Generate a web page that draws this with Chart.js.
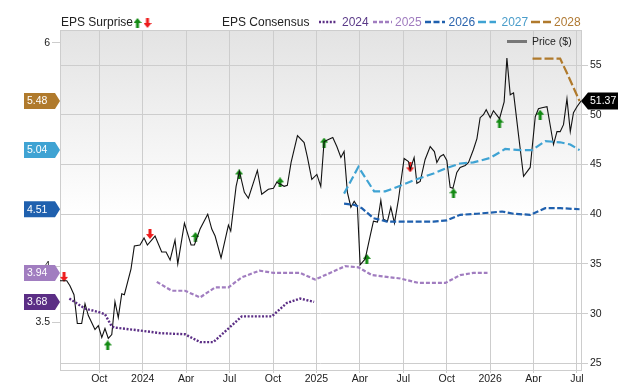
<!DOCTYPE html>
<html>
<head>
<meta charset="utf-8">
<script src="https://cdn.jsdelivr.net/npm/chart.js@4.4.1/dist/chart.umd.min.js"></script>
<style>
  html, body { margin: 0; padding: 0; background: #fff; }
  canvas { display: block; }
</style>
</head>
<body>
<canvas id="c" width="640" height="382"></canvas>
<script>
// x = months since Jul 2023 (3 = Oct 2023, 6 = Jan 2024, ...)
const tickMonths = [3, 6, 9, 12, 15, 18, 21, 24, 27, 30, 33, 36];
const tickLabels = ["Oct", "2024", "Apr", "Jul", "Oct", "2025", "Apr", "Jul", "Oct", "2026", "Apr", "Jul"];
const priceTicks = [25, 30, 35, 40, 45, 50, 55];
const epsTicks = [3.5, 4, 6];

const priceX = [0.28, 0.75, 0.97, 1.25, 1.48, 1.78, 2.01, 2.24, 2.7, 2.93, 3.17, 3.39, 3.62, 3.86, 4.08, 4.31, 4.55, 4.73,
  5.19, 5.42, 5.81, 6.09, 6.32, 6.85, 7.31, 7.61, 7.89, 8.23, 8.42, 8.88, 9.34, 9.57, 9.96, 10.49, 10.77, 11.0, 11.41,
  11.92, 12.08, 12.45, 12.68, 13.02, 13.3, 13.92, 14.22, 14.68, 15.03, 15.26, 15.77, 15.99, 16.25, 16.69, 17.15, 17.38,
  17.68, 18.03, 18.3, 18.53, 18.83, 19.13, 19.41, 19.69, 19.91, 20.14, 20.38, 20.61, 20.83, 21.02, 21.37, 21.71, 21.94,
  22.22, 22.45, 22.63, 22.91, 23.14, 23.39, 23.67, 24.06, 24.36, 24.48, 24.75, 24.94, 25.17, 25.51, 25.86, 26.15, 26.32,
  26.55, 26.78, 27.01, 27.24, 27.43, 27.7, 27.93, 28.28, 28.51, 28.85, 29.09, 29.31, 29.54, 29.73, 30.01, 30.23, 30.65,
  30.97, 31.16, 31.39, 31.62, 31.96, 32.31, 32.77, 33.12, 33.34, 33.58, 33.93, 34.38, 34.62, 34.84, 35.07, 35.31, 35.54,
  35.76, 36.0, 36.28];
const priceY = [33.3, 33.3, 32.8, 31.9, 29.0, 29.0, 31.0, 29.8, 28.4, 28.8, 27.6, 28.5, 27.5, 27.9, 31.2, 29.6, 32.0, 31.9,
  34.5, 36.8, 36.9, 37.6, 36.9, 37.8, 36.2, 36.2, 35.4, 37.4, 35.0, 39.1, 36.9, 36.9, 38.5, 40.0, 38.5, 37.8, 35.6,
  38.9, 38.3, 42.8, 44.3, 42.2, 41.6, 44.4, 42.0, 42.5, 42.6, 43.2, 42.8, 42.9, 45.2, 47.9, 47.2, 45.7,
  43.5, 44.0, 42.8, 47.3, 47.5, 47.7, 46.8, 45.7, 46.3, 42.2, 40.7, 41.3, 40.8, 34.9, 35.5, 37.8, 39.3,
  39.2, 41.4, 39.5, 39.3, 40.7, 39.1, 41.5, 45.6, 45.3, 44.5, 45.7, 43.1, 43.3, 45.5, 46.8, 46.3, 45.2,
  45.8, 46.0, 45.4, 42.7, 42.6, 44.2, 44.7, 44.9, 45.2, 46.5, 47.6, 49.7, 50.0, 50.5, 49.7, 50.4, 49.6,
  51.3, 55.7, 52.0, 52.2, 48.0, 43.8, 44.7, 49.8, 50.6, 50.7, 50.8, 47.0, 48.3, 48.3, 49.0, 51.6, 48.3,
  50.2, 50.8, 51.37];

const eps2024X = [0.93, 2.01, 2.93, 3.39, 3.86, 4.08, 6.04, 7.2, 8.92, 9.96, 10.88, 12.84, 14.92, 15.95, 16.87, 17.84];
const eps2024Y = [3.71, 3.62, 3.59, 3.57, 3.46, 3.45, 3.42, 3.4, 3.39, 3.32, 3.32, 3.55, 3.55, 3.67, 3.71, 3.68];

const eps2025X = [6.97, 8.0, 8.92, 9.96, 11.0, 11.92, 12.84, 14.06, 15.03, 16.87, 17.91, 19.98, 20.9, 21.83, 23.79, 25.05,
  26.9, 27.93, 28.85, 29.82];
const eps2025Y = [3.86, 3.78, 3.78, 3.72, 3.81, 3.81, 3.9, 3.96, 3.94, 3.94, 3.88, 4.0, 3.99, 3.92, 3.89, 3.85,
  3.85, 3.92, 3.94, 3.94];

const eps2026X = [19.91, 20.61, 21.14, 21.94, 22.87, 23.79, 26.09, 27.01, 27.93, 29.09, 30.01, 30.82, 31.62, 32.77, 33.81,
  34.84, 36.18];
const eps2026Y = [4.56, 4.55, 4.52, 4.43, 4.4, 4.4, 4.4, 4.41, 4.46, 4.47, 4.48, 4.49, 4.47, 4.46, 4.52, 4.52, 4.51];

const eps2027X = [19.91, 20.9, 21.99, 22.75, 23.79, 24.71, 26.09, 27.01, 27.93, 28.85, 30.01, 31.04, 32.08, 32.89, 33.81,
  34.84, 35.54, 36.18];
const eps2027Y = [4.65, 4.89, 4.67, 4.67, 4.72, 4.77, 4.83, 4.88, 4.92, 4.93, 4.97, 5.05, 5.04, 5.04, 5.12, 5.11, 5.09, 5.04];

const eps2028X = [32.93, 34.84, 35.31, 36.18];
const eps2028Y = [5.86, 5.86, 5.73, 5.48];

const beatX = [3.58, 9.64, 12.66, 15.49, 18.53, 21.48, 27.47, 30.65, 33.46];
const beatY = [26.8, 37.7, 44.0, 43.2, 47.2, 35.5, 42.1, 49.2, 50.0];
const missX = [0.56, 6.5, 24.48];
const missY = [33.7, 38.0, 44.7];

const FONT = "'Liberation Sans', Arial, sans-serif";
const TXT = "#222";
const GRID = "#cdcdcd";

const series = [
  { label: "2024", x: eps2024X, y: eps2024Y, color: "#5b2e85", dash: [2, 1.6], w: 2.4 },
  { label: "2025", x: eps2025X, y: eps2025Y, color: "#a17dc0", dash: [4, 2], w: 2.2 },
  { label: "2026", x: eps2026X, y: eps2026Y, color: "#1f60ae", dash: [6, 2.5], w: 2.2 },
  { label: "2027", x: eps2027X, y: eps2027Y, color: "#3fa3d3", dash: [8, 3.5], w: 2.2 },
  { label: "2028", x: eps2028X, y: eps2028Y, color: "#b07a2c", dash: [9, 3], w: 2.2 },
];
const legendText = { "2024": "#5b3a88", "2025": "#a07cbf", "2026": "#2b64ad", "2027": "#4a9dca", "2028": "#b07a34" };
const legendPos = { "2024": [319, 337, 342], "2025": [373, 392, 395], "2026": [425, 445, 448.5],
  "2027": [478, 496, 501.5], "2028": [531, 551, 554] };

const pts = (xs, ys) => xs.map((x, i) => ({ x, y: ys[i] }));

function arrow(up, color) {
  const c = document.createElement("canvas");
  c.width = 8; c.height = 10;
  const g = c.getContext("2d");
  g.fillStyle = color;
  g.beginPath();
  if (up) {
    g.moveTo(4, 0); g.lineTo(8, 5); g.lineTo(5.5, 5); g.lineTo(5.5, 10); g.lineTo(2.5, 10); g.lineTo(2.5, 5); g.lineTo(0, 5);
  } else {
    g.moveTo(4, 10); g.lineTo(8, 5); g.lineTo(5.5, 5); g.lineTo(5.5, 0); g.lineTo(2.5, 0); g.lineTo(2.5, 5); g.lineTo(0, 5);
  }
  g.closePath();
  g.fill();
  return c;
}
const upA = arrow(true, "#138a13");
const downA = arrow(false, "#ee1c1c");

const datasets = [
  ...series.map((s) => ({
    data: pts(s.x, s.y), yAxisID: "yE", borderColor: s.color, borderWidth: s.w, borderDash: s.dash,
    pointRadius: 0, tension: 0, fill: false,
  })),
  { data: pts(priceX, priceY), yAxisID: "yP", borderColor: "#111", borderWidth: 1.1, pointRadius: 0, tension: 0 },
  { data: pts(beatX, beatY), yAxisID: "yP", showLine: false, pointStyle: upA, pointRadius: 5 },
  { data: pts(missX, missY), yAxisID: "yP", showLine: false, pointStyle: downA, pointRadius: 5 },
];

function badge(ctx, x0, x1, tip, y, h, color, text, tx) {
  ctx.fillStyle = color;
  ctx.beginPath();
  if (tip > x1) {
    ctx.moveTo(x0, y - h / 2); ctx.lineTo(x1, y - h / 2); ctx.lineTo(tip, y); ctx.lineTo(x1, y + h / 2); ctx.lineTo(x0, y + h / 2);
  } else {
    ctx.moveTo(tip, y); ctx.lineTo(x0, y - h / 2); ctx.lineTo(x1, y - h / 2); ctx.lineTo(x1, y + h / 2); ctx.lineTo(x0, y + h / 2);
  }
  ctx.closePath();
  ctx.fill();
  ctx.fillStyle = "#fff";
  ctx.font = `10.5px ${FONT}`;
  ctx.textAlign = "left";
  ctx.textBaseline = "middle";
  ctx.fillText(text, tx, y + 0.5);
}

const deco = {
  id: "deco",
  beforeDraw(chart) {
    const { ctx, chartArea: a } = chart;
    const g = ctx.createLinearGradient(0, a.top, 0, a.bottom);
    g.addColorStop(0, "#e3e3e3");
    g.addColorStop(0.55, "#ffffff");
    g.addColorStop(1, "#ffffff");
    ctx.save();
    ctx.fillStyle = g;
    ctx.fillRect(a.left, a.top, a.right - a.left, a.bottom - a.top);
    ctx.restore();
  },
  beforeDatasetsDraw(chart) {
    const { ctx, chartArea: a } = chart;
    ctx.save();
    ctx.strokeStyle = GRID;
    ctx.lineWidth = 1;
    ctx.beginPath();
    ctx.moveTo(a.left, a.top + 0.5);
    ctx.lineTo(a.right, a.top + 0.5);
    ctx.stroke();
    ctx.restore();
  },
  afterDraw(chart) {
    const { ctx } = chart;
    const yE = chart.scales.yE, yP = chart.scales.yP;
    ctx.save();
    // top legend
    ctx.font = `12px ${FONT}`;
    ctx.textBaseline = "middle";
    ctx.textAlign = "left";
    ctx.fillStyle = TXT;
    ctx.fillText("EPS Surprise", 61, 23);
    ctx.drawImage(upA, 133.5, 18);
    ctx.drawImage(downA, 143.5, 18);
    ctx.fillStyle = TXT;
    ctx.fillText("EPS Consensus", 222, 23);
    series.forEach((s) => {
      const [a, b, t] = legendPos[s.label];
      ctx.strokeStyle = s.color;
      ctx.lineWidth = 2.4;
      ctx.setLineDash(s.dash);
      ctx.beginPath();
      ctx.moveTo(a, 22);
      ctx.lineTo(b, 22);
      ctx.stroke();
      ctx.setLineDash([]);
      ctx.fillStyle = legendText[s.label];
      ctx.fillText(s.label, t, 23);
    });
    // price legend
    ctx.strokeStyle = "#777";
    ctx.lineWidth = 3;
    ctx.beginPath();
    ctx.moveTo(507, 41.5);
    ctx.lineTo(527, 41.5);
    ctx.stroke();
    ctx.fillStyle = TXT;
    ctx.font = `10.5px ${FONT}`;
    ctx.fillText("Price ($)", 532, 42);
    // left badges with last consensus values
    series.slice().reverse().forEach((s) => {
      const v = s.y[s.y.length - 1];
      badge(ctx, 24, 55, 60, yE.getPixelForValue(v), 16, s.color, v.toFixed(2), 27);
    });
    // right price badge
    const last = priceY[priceY.length - 1];
    badge(ctx, 588, 618, 581, yP.getPixelForValue(last), 17, "#000", last.toFixed(2), 590);
    ctx.restore();
  },
};

const tickFont = { family: FONT, size: 10.5 };

new Chart(document.getElementById("c"), {
  type: "line",
  data: { datasets },
  plugins: [deco],
  options: {
    responsive: false,
    devicePixelRatio: 1,
    animation: false,
    events: [],
    layout: { padding: { top: 30, left: 0, right: 0, bottom: 0 } },
    plugins: { legend: { display: false }, tooltip: { enabled: false } },
    scales: {
      x: {
        type: "linear",
        min: 0.283,
        max: 36.28,
        afterBuildTicks: (s) => { s.ticks = tickMonths.map((v) => ({ value: v })); },
        afterFit: (s) => { s.height = 12; },
        ticks: {
          autoSkip: false, maxRotation: 0, padding: 0, color: TXT, font: tickFont,
          callback: (v) => tickLabels[tickMonths.indexOf(v)] ?? "",
        },
        grid: { color: GRID, tickLength: 3 },
        border: { color: GRID },
      },
      yE: {
        position: "left",
        min: 3.07,
        max: 6.116,
        afterBuildTicks: (s) => { s.ticks = epsTicks.map((v) => ({ value: v })); },
        afterFit: (s) => { s.width = 60; },
        ticks: { padding: 2, color: TXT, font: tickFont, callback: (v) => String(v) },
        grid: { drawOnChartArea: false, tickLength: 8, color: GRID },
        border: { color: GRID },
      },
      yP: {
        position: "right",
        min: 24.33,
        max: 58.52,
        afterBuildTicks: (s) => { s.ticks = priceTicks.map((v) => ({ value: v })); },
        afterFit: (s) => { s.width = 59; },
        ticks: { padding: 2, color: TXT, font: tickFont, callback: (v) => String(v) },
        grid: { color: GRID, tickLength: 7 },
        border: { color: GRID },
      },
    },
  },
});
</script>
</body>
</html>
